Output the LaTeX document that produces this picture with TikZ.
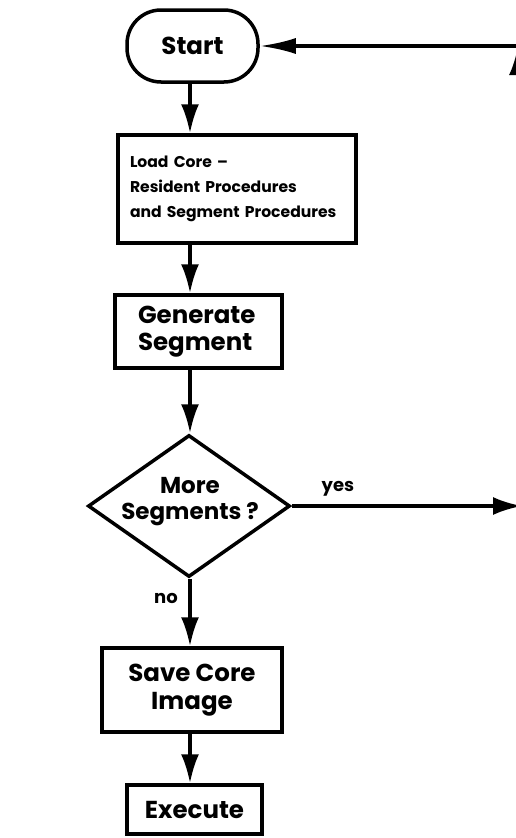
\documentclass[tikz,border=0pt]{standalone}
\usepackage{fontspec}
\setmainfont{Poppins}
\usetikzlibrary{shapes.geometric,arrows.meta}

\begin{document}
\begin{tikzpicture}[x=1pt,y=-1pt,
  line width=3.5pt,
  every node/.style={font=\bfseries\fontsize{24.5}{27.5}\selectfont},
  box/.style={draw,rectangle,inner sep=0pt,minimum width=#1},
  term/.style={draw,rectangle,rounded corners=34pt,minimum width=131pt,minimum height=72pt,inner sep=0pt},
  decision/.style={draw,diamond,minimum width=202pt,minimum height=142pt,inner sep=0pt},
  arr/.style={-{Latex[length=29pt,width=18pt]}},
  lbl/.style={font=\bfseries\fontsize{18}{20}\selectfont}
]
\useasboundingbox (0,0) rectangle (516,838);
\fill[white] (0,0) rectangle (516,838);

% flowchart nodes
\node[term] (start) at (192.5,46) {Start};
\node[box=238pt,minimum height=108pt,text width=214pt,align=left,
      font=\bfseries\fontsize{15.6}{25}\selectfont] (load) at (237,189)
  {Load Core --\\Resident Procedures\\and Segment Procedures};
\node[box=167pt,minimum height=73pt,text width=121pt,align=left] (gen) at (198.5,331.5)
  {Generate\\Segment};
\node[decision] (more) at (189,506) {};
\node[align=center,inner sep=0pt,font=\bfseries\fontsize{23}{26}\selectfont]
  (moretxt) at (190,502) {More\\Segments ?};
\node[box=180pt,minimum height=84pt,align=center] (save) at (192,690)
  {Save Core\\Image};
\node[box=135pt,minimum height=49pt] (exec) at (194.5,809.5) {Execute};

% column of the main flow and the loop-back points at the right edge
\coordinate (col) at (190,0);
\coordinate (yesend) at (522,506);
\coordinate (corner) at (518,46);
\coordinate (loopup) at (518,46);
\coordinate (loopdn) at (518,140);

% main flow
\draw[arr] (start.south -| col) -- (load.north -| col);
\draw[arr] (load.south -| col) -- (gen.north -| col);
\draw[arr] (gen.south -| col) -- (more.north -| col);
\draw[arr] (more.south -| col) -- (save.north -| col);
\draw[arr] (save.south -| col) -- (exec.north -| col);

% yes branch and return to start
\draw[arr] (more.east) -- (yesend);
\draw[-{Latex[length=36pt,width=16pt]}] (corner) -- (start.east);
\draw[arr] (loopdn) -- (loopup);

% branch labels
\node[lbl] (yes) at (338,489) {yes};
\node[lbl] (no) at (166,598) {no};
\end{tikzpicture}
\end{document}
